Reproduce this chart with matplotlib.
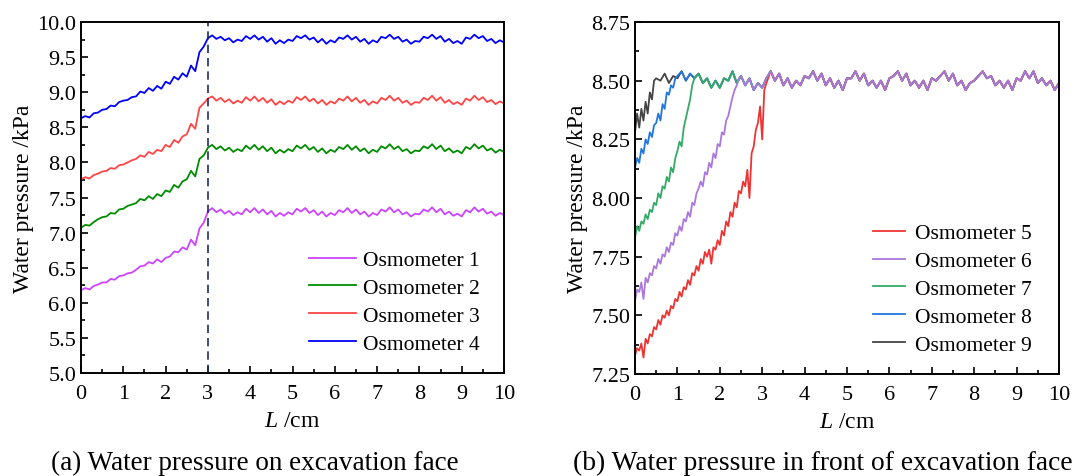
import numpy as np
import matplotlib
matplotlib.use("Agg")
import matplotlib.pyplot as plt

plt.rcParams['font.family'] = ['Liberation Serif', 'DejaVu Serif']
plt.rcParams['mathtext.fontset'] = 'custom'
plt.rcParams['mathtext.it'] = 'Liberation Serif:italic'
plt.rcParams['mathtext.rm'] = 'Liberation Serif'

# ---- panel (a): water pressure on excavation face, x step 0.1 cm from 0 ----
osm4 = [8.63, 8.66, 8.64, 8.70, 8.71, 8.75, 8.76, 8.81, 8.80, 8.86, 8.88, 8.89, 8.93, 8.94, 9.01, 8.99, 9.06, 9.02, 9.09, 9.05,
        9.15, 9.12, 9.22, 9.18, 9.27, 9.22, 9.38, 9.30, 9.57, 9.65, 9.77,
        9.81, 9.76, 9.79, 9.74, 9.77, 9.71, 9.75, 9.73, 9.80, 9.76,
        9.81, 9.75, 9.79, 9.72, 9.77, 9.69, 9.74, 9.70, 9.75, 9.73,
        9.80, 9.77, 9.81, 9.75, 9.78, 9.71, 9.76, 9.69, 9.74, 9.71,
        9.78, 9.76, 9.81, 9.75, 9.79, 9.72, 9.76, 9.69, 9.74, 9.71,
        9.79, 9.77, 9.82, 9.76, 9.79, 9.72, 9.75, 9.69, 9.73, 9.72,
        9.79, 9.77, 9.82, 9.76, 9.80, 9.72, 9.76, 9.70, 9.73, 9.69,
        9.78, 9.76, 9.82, 9.77, 9.80, 9.73, 9.76, 9.70, 9.74, 9.71]
osm3 = [7.76, 7.79, 7.77, 7.82, 7.84, 7.87, 7.88, 7.92, 7.91, 7.96, 7.97, 8.00, 8.03, 8.05, 8.10, 8.08, 8.15, 8.12, 8.18, 8.16,
        8.25, 8.22, 8.32, 8.28, 8.37, 8.40, 8.55, 8.48, 8.78, 8.84, 8.91,
        8.94, 8.88, 8.92, 8.86, 8.90, 8.84, 8.88, 8.85, 8.93, 8.88,
        8.94, 8.87, 8.92, 8.85, 8.90, 8.82, 8.87, 8.83, 8.88, 8.85,
        8.93, 8.89, 8.94, 8.87, 8.91, 8.84, 8.89, 8.82, 8.87, 8.84,
        8.91, 8.88, 8.94, 8.87, 8.92, 8.85, 8.89, 8.82, 8.87, 8.84,
        8.92, 8.89, 8.95, 8.88, 8.92, 8.85, 8.88, 8.82, 8.86, 8.85,
        8.92, 8.89, 8.95, 8.88, 8.93, 8.85, 8.89, 8.83, 8.86, 8.82,
        8.91, 8.88, 8.95, 8.89, 8.93, 8.86, 8.89, 8.83, 8.87, 8.84]
osm2 = [7.07, 7.11, 7.10, 7.15, 7.19, 7.22, 7.23, 7.28, 7.27, 7.33, 7.34, 7.38, 7.40, 7.42, 7.48, 7.46, 7.52, 7.48, 7.55, 7.52,
        7.60, 7.58, 7.68, 7.64, 7.73, 7.76, 7.88, 7.80, 8.05, 8.10, 8.21,
        8.25, 8.19, 8.23, 8.17, 8.21, 8.15, 8.19, 8.16, 8.24, 8.19,
        8.25, 8.18, 8.23, 8.16, 8.21, 8.13, 8.18, 8.14, 8.19, 8.16,
        8.24, 8.20, 8.25, 8.18, 8.22, 8.15, 8.20, 8.13, 8.18, 8.15,
        8.22, 8.19, 8.25, 8.18, 8.23, 8.16, 8.20, 8.13, 8.18, 8.15,
        8.23, 8.20, 8.26, 8.19, 8.23, 8.16, 8.19, 8.13, 8.17, 8.16,
        8.23, 8.20, 8.26, 8.19, 8.24, 8.16, 8.20, 8.14, 8.17, 8.13,
        8.22, 8.19, 8.26, 8.20, 8.24, 8.17, 8.20, 8.14, 8.18, 8.15]
osm1 = [6.18, 6.21, 6.19, 6.24, 6.26, 6.29, 6.29, 6.34, 6.33, 6.38, 6.39, 6.42, 6.43, 6.47, 6.52, 6.53, 6.58, 6.56, 6.62, 6.58,
        6.64, 6.66, 6.73, 6.72, 6.79, 6.76, 6.90, 6.82, 7.06, 7.14, 7.30,
        7.35, 7.29, 7.33, 7.27, 7.31, 7.25, 7.29, 7.26, 7.34, 7.29,
        7.35, 7.28, 7.33, 7.26, 7.31, 7.23, 7.28, 7.24, 7.29, 7.26,
        7.34, 7.30, 7.35, 7.28, 7.32, 7.25, 7.30, 7.23, 7.28, 7.25,
        7.32, 7.29, 7.35, 7.28, 7.33, 7.26, 7.30, 7.23, 7.28, 7.25,
        7.33, 7.30, 7.36, 7.29, 7.33, 7.26, 7.29, 7.23, 7.27, 7.26,
        7.33, 7.30, 7.36, 7.29, 7.34, 7.26, 7.30, 7.24, 7.27, 7.23,
        7.32, 7.29, 7.36, 7.30, 7.34, 7.27, 7.30, 7.24, 7.28, 7.25]
face_L = 3.0

# ---- panel (b): in front of face; rising parts at 0.05 cm step, shared plateau from 0.6 cm at 0.1 cm step ----
plateau = [8.50, 8.53, 8.49, 8.52, 8.51, 8.54, 8.50, 8.53, 8.51, 8.53, 8.49, 8.51, 8.47, 8.50, 8.47, 8.51, 8.50, 8.54, 8.49,
           8.52, 8.48, 8.51, 8.46, 8.49, 8.47, 8.51, 8.54, 8.50, 8.53, 8.48, 8.51, 8.47, 8.50, 8.48, 8.52, 8.51, 8.54, 8.50,
           8.53, 8.48, 8.51, 8.47, 8.50, 8.46, 8.51, 8.51, 8.54, 8.50, 8.53, 8.48, 8.50, 8.47, 8.50, 8.46, 8.51, 8.52, 8.54,
           8.50, 8.53, 8.48, 8.50, 8.47, 8.50, 8.46, 8.51, 8.50, 8.52, 8.54, 8.50, 8.53, 8.48, 8.50, 8.46, 8.49, 8.50, 8.52,
           8.54, 8.51, 8.52, 8.48, 8.50, 8.47, 8.50, 8.46, 8.51, 8.50, 8.54, 8.51, 8.54, 8.49, 8.51, 8.48, 8.50, 8.46, 8.49]
plateau_start = 0.6
osm9_rise = [8.28, 8.36, 8.30, 8.38, 8.33, 8.41, 8.36, 8.45, 8.42, 8.50, 8.51]
osm8_rise = [8.13, 8.17, 8.15, 8.21, 8.19, 8.25, 8.23, 8.28, 8.26, 8.31, 8.32, 8.36, 8.33, 8.40, 8.38, 8.45, 8.44, 8.48,
             8.47, 8.51, 8.52]
osm7_rise = [7.83, 7.88, 7.86, 7.90, 7.89, 7.93, 7.91, 7.95, 7.94, 7.98, 7.97, 8.02, 8.00, 8.05, 8.04, 8.09, 8.07, 8.13,
             8.11, 8.17, 8.20, 8.24, 8.22, 8.30, 8.34, 8.38, 8.42, 8.48, 8.51]
osm6_rise = [7.56, 7.61, 7.60, 7.64, 7.57, 7.66, 7.64, 7.68, 7.67, 7.71, 7.70, 7.74, 7.72, 7.76, 7.75, 7.79, 7.77, 7.81,
             7.80, 7.85, 7.84, 7.88, 7.86, 7.91, 7.90, 7.94, 7.92, 7.98, 7.97, 8.02, 8.04, 8.07, 8.05, 8.11, 8.10, 8.15,
             8.13, 8.19, 8.17, 8.23, 8.22, 8.28, 8.27, 8.33, 8.35, 8.39, 8.43, 8.46, 8.48, 8.51]
osm5_rise = [7.33, 7.36, 7.35, 7.38, 7.32, 7.40, 7.38, 7.42, 7.41, 7.45, 7.44, 7.48, 7.46, 7.50, 7.49, 7.52, 7.50, 7.54,
             7.53, 7.57, 7.56, 7.60, 7.58, 7.62, 7.61, 7.65, 7.63, 7.68, 7.67, 7.71, 7.69, 7.74, 7.72, 7.77, 7.75, 7.78,
             7.72, 7.79, 7.78, 7.82, 7.80, 7.86, 7.84, 7.90, 7.88, 7.94, 7.92, 7.98, 7.96, 8.03, 8.02, 8.07, 8.05, 8.12,
             8.00, 8.19, 8.22, 8.29, 8.32, 8.39, 8.25, 8.46, 8.49]

labels_a = ['Osmometer 1', 'Osmometer 2', 'Osmometer 3', 'Osmometer 4']
colors_a = ['#CC44FF', '#008C00', '#FF4545', '#0000FF']
labels_b = ['Osmometer 5', 'Osmometer 6', 'Osmometer 7', 'Osmometer 8', 'Osmometer 9']
colors_b = ['#EE3333', '#AA77DD', '#33AA66', '#2277DD', '#444444']

fig = plt.figure(figsize=(10.89, 4.77), dpi=100)
ax1 = fig.add_axes([0.0744, 0.2159, 0.3884, 0.7358])
ax2 = fig.add_axes([0.5831, 0.2138, 0.3893, 0.738])


def style(ax):
    for s in ax.spines.values():
        s.set_linewidth(1.4)
    ax.tick_params(which='both', direction='in', top=False, right=False, labelsize=16, width=1.2)
    ax.tick_params(which='major', length=5)
    ax.tick_params(which='minor', length=2.8)
    ax.tick_params(axis='x', which='major', pad=8)
    ax.set_xlabel('$L$ /cm', fontsize=17, labelpad=5)
    ax.set_ylabel('Water pressure /kPa', fontsize=17, labelpad=2)
    ax.set_xlim(0, 10)
    ax.set_xticks(np.arange(0, 11, 1))
    ax.set_xticks(np.arange(0.5, 10, 1), minor=True)


series_a = [osm1, osm2, osm3, osm4]
for y, c, lab in zip(series_a, colors_a, labels_a):
    x = np.arange(len(y)) * 0.1
    ax1.plot(x, y, color=c, lw=1.3, label=lab)
ax1.axvline(face_L, color='#1F2A6B', lw=1.2, ls=(0, (5, 3)))
ax1.set_ylim(5.0, 10.0)
ax1.set_yticks(np.arange(5.0, 10.01, 0.5))
ax1.set_yticks(np.arange(5.25, 10, 0.5), minor=True)
ax1.yaxis.set_major_formatter(matplotlib.ticker.FormatStrFormatter('%.1f'))
style(ax1)
ax1.legend(loc='lower right', bbox_to_anchor=(0.988, 0.0), frameon=False, fontsize=15.5,
           handlelength=2.2, labelspacing=0.36, handletextpad=0.3)

px = plateau_start + np.arange(len(plateau)) * 0.1
pv = np.array(plateau)
rises = {'Osmometer 5': osm5_rise, 'Osmometer 6': osm6_rise, 'Osmometer 7': osm7_rise,
         'Osmometer 8': osm8_rise, 'Osmometer 9': osm9_rise}
lines = {}
for lab in ['Osmometer 9', 'Osmometer 8', 'Osmometer 7', 'Osmometer 5', 'Osmometer 6']:
    r = rises[lab]
    rx = np.arange(len(r)) * 0.05
    keep = px > rx[-1] + 0.01
    x = np.concatenate([rx, px[keep]])
    y = np.concatenate([r, pv[keep]])
    lines[lab], = ax2.plot(x, y, color=colors_b[labels_b.index(lab)], lw=1.3, label=lab)
ax2.set_ylim(7.25, 8.75)
ax2.set_yticks(np.arange(7.25, 8.76, 0.25))
ax2.set_yticks(np.arange(7.375, 8.75, 0.25), minor=True)
ax2.yaxis.set_major_formatter(matplotlib.ticker.FormatStrFormatter('%.2f'))
style(ax2)
ax2.legend([lines[l] for l in labels_b], labels_b, loc='lower right', bbox_to_anchor=(0.981, 0.0), frameon=False,
           fontsize=15.5, handlelength=1.5, labelspacing=0.36, handletextpad=0.45)

fig.text(0.234, 0.029, '(a) Water pressure on excavation face', ha='center', va='center', fontsize=19.5)
fig.text(0.756, 0.029, '(b) Water pressure in front of excavation face', ha='center', va='center', fontsize=19.8)

fig.savefig('out.png', dpi=100)
